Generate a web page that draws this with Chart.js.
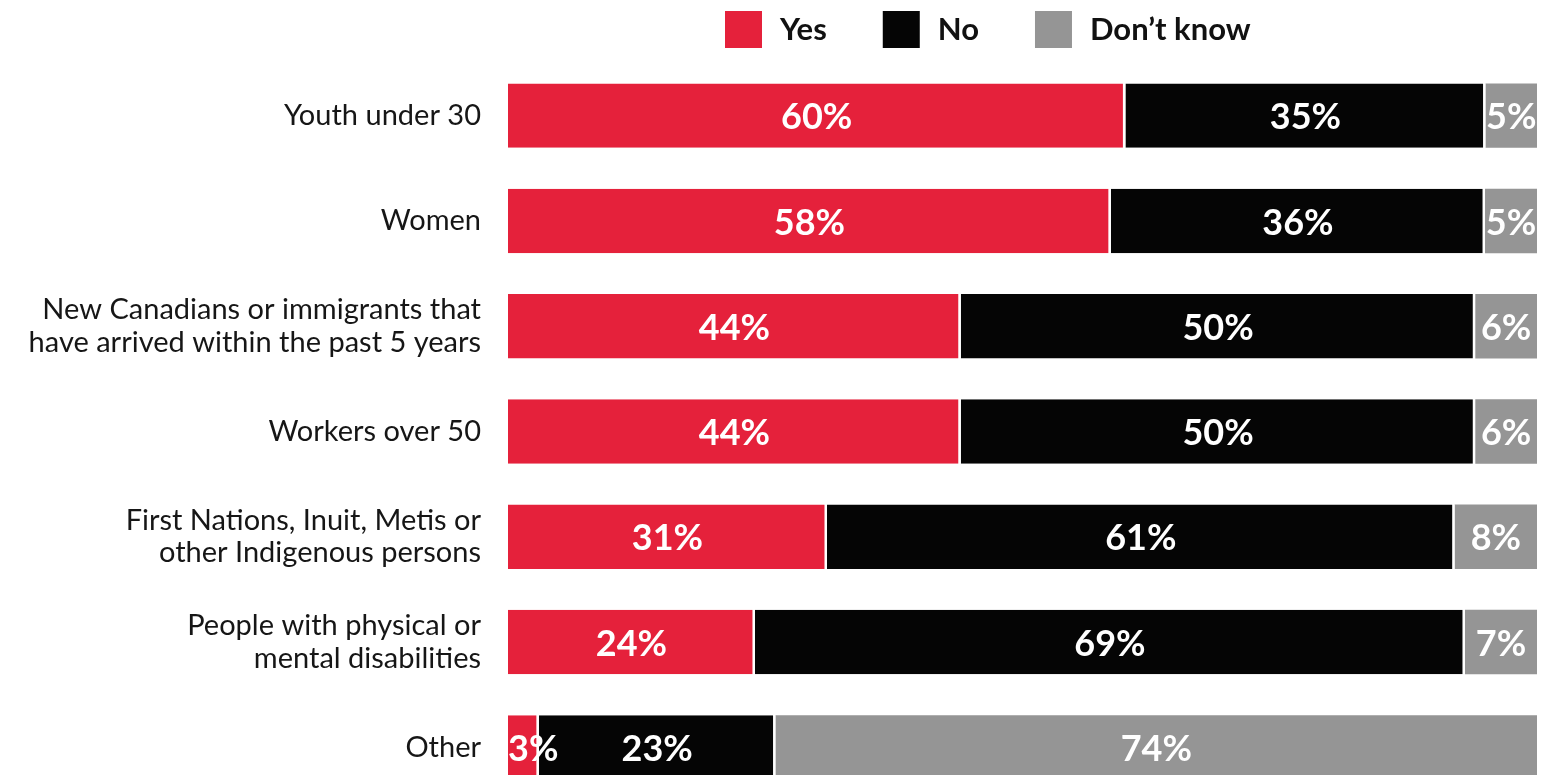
<!DOCTYPE html>
<html>
<head>
<meta charset="utf-8">
<script src="https://cdn.jsdelivr.net/npm/chart.js@4"></script>
<style>
  html, body { margin: 0; padding: 0; background: #fff; overflow: hidden; }
  #wrap { width: 1564px; height: 775px; overflow: hidden; }
  #box { position: relative; width: 1564px; height: 800px; }
</style>
</head>
<body>
<div id="wrap">
  <div id="box"><canvas id="surveyChart"></canvas></div>
</div>
<script>
// groups asked about (multi-line labels as arrays)
const categories = [
    'Youth under 30',
    'Women',
    ['New Canadians or immigrants that', 'have arrived within the past 5 years'],
    'Workers over 50',
    ['First Nations, Inuit, Metis or', 'other Indigenous persons'],
    ['People with physical or', 'mental disabilities'],
    'Other'
];
const seriesNames = ['Yes', 'No', 'Don\u2019t know'];
const yesValues = [60, 58, 44, 44, 31, 24, 3];
const noValues = [35, 36, 50, 50, 61, 69, 23];
const dontKnowValues = [5, 5, 6, 6, 8, 7, 74];

const seriesValues = [yesValues, noValues, dontKnowValues];
const seriesColors = ['#e5213b', '#050505', '#959595'];

// 100% stacked: each row scaled to its own total
const rowTotals = categories.map((c, i) => yesValues[i] + noValues[i] + dontKnowValues[i]);
const toShare = values => values.map((v, i) => v / rowTotals[i] * 100);

// value labels in the middle of each segment, clipped to the plot
const segmentLabels = {
    id: 'segmentLabels',
    afterDatasetsDraw(chart) {
        const ctx = chart.ctx;
        const area = chart.chartArea;
        ctx.save();
        ctx.beginPath();
        ctx.rect(area.left, area.top, area.right - area.left, area.bottom - area.top);
        ctx.clip();
        ctx.font = 'bold 36px Lato';
        ctx.fillStyle = '#ffffff';
        ctx.textAlign = 'center';
        ctx.textBaseline = 'middle';
        chart.data.datasets.forEach((ds, di) => {
            chart.getDatasetMeta(di).data.forEach((bar, i) => {
                const text = seriesValues[di][i] + '%';
                const w = ctx.measureText(text).width;
                let cx = (bar.x + bar.base) / 2;
                if (cx - w / 2 < area.left) cx = area.left + w / 2;
                ctx.fillText(text, cx, bar.y + 2);
            });
        });
        ctx.restore();
    }
};

// legend drawn by hand so it can sit where the original one is
const topLegend = {
    id: 'topLegend',
    afterDraw(chart) {
        const ctx = chart.ctx;
        let x = 725;
        ctx.save();
        ctx.font = 'bold 31px Lato';
        ctx.textAlign = 'left';
        ctx.textBaseline = 'middle';
        chart.data.datasets.forEach(ds => {
            ctx.fillStyle = ds.backgroundColor;
            ctx.fillRect(x, 11, 37, 37);
            ctx.fillStyle = '#111111';
            ctx.fillText(ds.label, x + 55, 30);
            x += 55 + ctx.measureText(ds.label).width + 56;
        });
        ctx.restore();
    }
};

new Chart(document.getElementById('surveyChart'), {
    type: 'bar',
    data: {
        labels: categories,
        datasets: seriesNames.map((name, si) => ({
            label: name,
            data: toShare(seriesValues[si]),
            backgroundColor: seriesColors[si],
            borderColor: '#ffffff',
            borderWidth: si < 2 ? {top: 0, right: 2.5, bottom: 0, left: 0} : 0,
            borderSkipped: false,
            barPercentage: 0.612,
            categoryPercentage: 1
        }))
    },
    options: {
        indexAxis: 'y',
        responsive: true,
        maintainAspectRatio: false,
        animation: false,
        layout: { padding: { top: 63, right: 27, bottom: 0, left: 0 } },
        plugins: {
            legend: { display: false },
            tooltip: { enabled: false }
        },
        scales: {
            x: { stacked: true, min: 0, max: 100, display: false },
            y: {
                stacked: true,
                grid: { display: false, drawTicks: false },
                border: { display: false },
                ticks: {
                    autoSkip: false,
                    padding: 27,
                    color: '#161616',
                    font: { family: 'Lato', size: 29, lineHeight: 1.12 }
                },
                // fixed axis width, and no extra room asked for the end labels
                afterFit: scale => {
                    scale.width = 508;
                    scale.paddingTop = 0;
                    scale.paddingBottom = 0;
                }
            }
        }
    },
    plugins: [segmentLabels, topLegend]
});
</script>
</body>
</html>
